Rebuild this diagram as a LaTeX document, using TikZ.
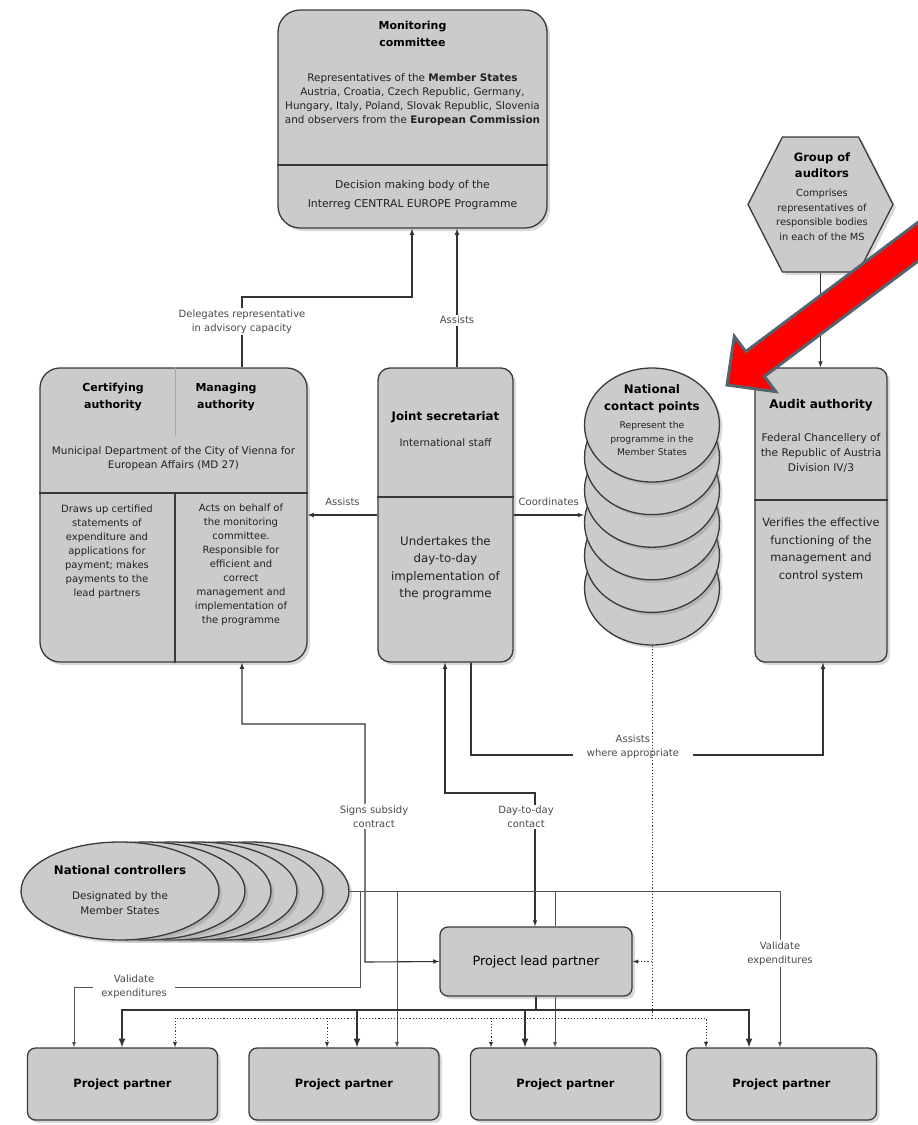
\documentclass[tikz,border=0pt]{standalone}
\usepackage{fontspec}
\setmainfont{DejaVu Sans}
\usetikzlibrary{shadows,shapes.geometric,shapes.symbols}
\definecolor{boxgray}{HTML}{CBCBCB}
\definecolor{boxline}{HTML}{3A3A3A}
\definecolor{linecol}{HTML}{333333}
\definecolor{lblcol}{HTML}{4A4A4A}
\definecolor{txtcol}{HTML}{222222}
\definecolor{arrowgray}{HTML}{56626C}

\begin{document}
\begin{tikzpicture}[x=1pt,y=-1pt,>=latex,
    box/.style={draw=boxline,line width=1.3pt,fill=boxgray,inner sep=0pt,
      drop shadow={opacity=0.3,shadow xshift=3pt,shadow yshift=-3pt}},
    ell/.style={box,ellipse},
    ttl/.style={font=\fontsize{11}{17.5}\selectfont\bfseries,align=center,inner sep=0pt},
    txt/.style={font=\fontsize{10}{14}\selectfont,align=center,inner sep=0pt,text=txtcol},
    big/.style={font=\fontsize{11.8}{17.5}\selectfont,align=center,inner sep=0pt,text=txtcol},
    lbl/.style={font=\fontsize{10}{14}\selectfont,align=center,fill=white,inner sep=1.5pt,text=lblcol},
    link/.style={draw=linecol,line width=1.1pt},
    thin/.style={draw=linecol!85,line width=0.8pt},
    dv/.style={draw=boxline,line width=1.2pt}]
    \useasboundingbox (0,0) rectangle (918,1125);
    \clip (0,0) rectangle (918,1125);

    % monitoring committee
    \node[box,rounded corners=22pt,minimum width=269pt,minimum height=218pt] (mc) at (412.5,119) {};
    \draw[dv] (mc.west |- 0,165) -- (mc.east |- 0,165);
    \node[ttl] (mct) at (412.5,34) {Monitoring\\committee};
    \node[txt,font=\fontsize{10.4}{14}\selectfont] (mcm) at (412.5,100) {Representatives of the \textbf{Member States}\\Austria, Croatia, Czech Republic, Germany,\\Hungary, Italy, Poland, Slovak Republic, Slovenia\\and observers from the \textbf{European Commission}};
    \node[txt,font=\fontsize{10.8}{19.5}\selectfont] (mcb) at (412.5,195) {Decision making body of the\\Interreg CENTRAL EUROPE Programme};

    % certifying and managing authority
    \node[box,rounded corners=20pt,minimum width=267pt,minimum height=294pt] (cma) at (173.5,515) {};
    \draw[dv] (cma.west |- 0,493) -- (cma.east |- 0,493);
    \draw[draw=gray!70,line width=0.6pt] (cma.north -| 175,0) -- (175,436);
    \draw[dv] (175,493) -- (cma.south -| 175,0);
    \node[ttl] (cat) at (113,397) {Certifying\\authority};
    \node[ttl] (mat) at (226,397) {Managing\\authority};
    \node[txt,font=\fontsize{10.4}{14}\selectfont] (cam) at (173.5,459) {Municipal Department of the City of Vienna for\\European Affairs (MD 27)};
    \node[txt] (cab) at (107,552) {Draws up certified\\statements of\\expenditure and\\applications for\\payment; makes\\payments to the\\lead partners};
    \node[txt] (mab) at (241,565) {Acts on behalf of\\the monitoring\\committee.\\Responsible for\\efficient and\\correct\\management and\\implementation of\\the programme};

    % joint secretariat
    \node[box,rounded corners=12pt,minimum width=135pt,minimum height=294pt] (js) at (445.5,515) {};
    \draw[dv] (js.west |- 0,497) -- (js.east |- 0,497);
    \node[ttl,font=\fontsize{11.8}{16}\selectfont\bfseries] (jst) at (445.5,417) {Joint secretariat};
    \node[txt,font=\fontsize{10.3}{14}\selectfont] (jsm) at (445.5,443) {International staff};
    \node[big] (jsb) at (445.5,568) {Undertakes the\\day-to-day\\implementation of\\the programme};

    % national contact points
    \foreach \i in {5,...,0}
        \node[ell,minimum width=135pt,minimum height=114pt] (ncp\i) at (652,425+32.6*\i) {};
    \node[ttl,font=\fontsize{11.8}{17}\selectfont\bfseries] (ncpt) at (652,399) {National\\contact points};
    \node[txt,font=\fontsize{9.2}{13.5}\selectfont] (ncpb) at (652,439) {Represent the\\programme in the\\Member States};

    % group of auditors
    \node[box,signal,signal to=west and east,signal pointer angle=126,minimum width=145pt,minimum height=135pt] (goa) at (820.5,204.5) {};
    \node[ttl,font=\fontsize{11.5}{16}\selectfont\bfseries] (goat) at (822,165) {Group of\\auditors};
    \node[txt,font=\fontsize{9.8}{14.5}\selectfont] (goab) at (822,215) {Comprises\\representatives of\\responsible bodies\\in each of the MS};

    % audit authority
    \node[box,rounded corners=10pt,minimum width=132pt,minimum height=294pt] (aa) at (821,515) {};
    \draw[dv] (aa.west |- 0,500) -- (aa.east |- 0,500);
    \node[ttl,font=\fontsize{12}{17}\selectfont\bfseries] (aat) at (821,405) {Audit authority};
    \node[txt,font=\fontsize{10.6}{15}\selectfont] (aam) at (821,453) {Federal Chancellery of\\the Republic of Austria\\Division IV/3};
    \node[big,font=\fontsize{11.4}{17.5}\selectfont] (aab) at (821,550) {Verifies the effective\\functioning of the\\management and\\control system};

    % national controllers
    \foreach \i in {5,...,0}
        \node[ell,minimum width=198pt,minimum height=98pt] (nc\i) at (120+26*\i,891) {};
    \node[ttl,font=\fontsize{11.8}{17}\selectfont\bfseries] (nct) at (120,870) {National controllers};
    \node[txt,font=\fontsize{10.4}{15.5}\selectfont] (ncb) at (120,903) {Designated by the\\Member States};

    % project partners
    \node[box,rounded corners=8pt,minimum width=192pt,minimum height=69pt,font=\fontsize{12.8}{14}\selectfont] (plp) at (536,961.5) {Project lead partner};
    \foreach \i/\x in {1/122.5,2/344,3/565.5,4/781.5}
        \node[box,rounded corners=8pt,minimum width=190pt,minimum height=72pt,font=\fontsize{11.4}{14}\selectfont\bfseries] (pp\i) at (\x,1084) {Project partner};

    % upper links
    \draw[link,->] (cma.north -| 242,0) -- node[lbl,pos=0.65]{Delegates representative\\in advisory capacity} (242,297) -| (mc.south -| 412,0);
    \draw[link,->] (js.north -| 457,0) -- node[lbl,pos=0.34]{Assists} (mc.south -| 457,0);
    \draw[link,->] (js.west |- 0,515) -- node[lbl,above=7pt,fill=none]{Assists} (cma.east |- 0,515);
    \draw[link,->] (js.east |- 0,515) -- node[lbl,above=7pt,fill=none]{Coordinates} (ncp3.west |- 0,515);
    \draw[link,->] (goa.south) -- (goa.south |- aa.north);

    % lower links
    \draw[link,<->] (cma.south -| 242,0) |- (365,724) -- node[lbl,pos=0.39,xshift=9pt]{Signs subsidy\\contract} (365,962) -- (plp.west);
    \draw[link,<->] (js.south -| 445,0) |- (535,793) -- node[lbl,pos=0.18,xshift=-9pt]{Day-to-day\\contact} (plp.north -| 535,0);
    \draw[link,->] (js.south -| 471,0) |- node[lbl,pos=0.73,yshift=8pt,inner xsep=14pt]{Assists\\where appropriate} (823,755) -- (aa.south -| 823,0);

    % national controllers to partners
    \draw[thin,->] (nc5.east) -| (360,987) -- node[lbl,pos=0.79,inner xsep=8pt]{Validate\\expenditures} (74,987) -- (pp1.north -| 74,0);
    \draw[thin,->] (nc5.east) -| (pp2.north -| 397,0);
    \draw[thin] (nc5.east) -| (plp.north -| 555,0);
    \draw[thin,->] (plp.south -| 555,0) -- (pp3.north -| 555,0);
    \draw[thin,->] (nc5.east) -| node[lbl,pos=0.7]{Validate\\expenditures} (pp4.north -| 780,0);

    % lead partner to partners
    \foreach \p/\x in {pp1/122,pp2/357,pp3/525,pp4/749}
        \draw[link,->,line width=2pt] (plp.south) |- (\x,1010) -- (\p.north -| \x,0);

    % contact points to partners
    \draw[link,->,dotted,line width=0.9pt] (ncp5.south) |- (plp.east);
    \foreach \p/\x in {pp1/175,pp2/327,pp3/491,pp4/706}
        \draw[link,->,dotted,line width=0.9pt] (ncp5.south) |- (\x,1018) -- (\p.north -| \x,0);

    % red pointer
    \draw[draw=arrowgray,line width=3pt,fill=red,line join=miter]
        (727,385) -- (734.3,336.4) -- (745.7,351.6) -- (945.7,201.6) -- (964.3,226.4)
        -- (764.3,376.4) -- (775.7,391.6) -- cycle;
\end{tikzpicture}
\end{document}
